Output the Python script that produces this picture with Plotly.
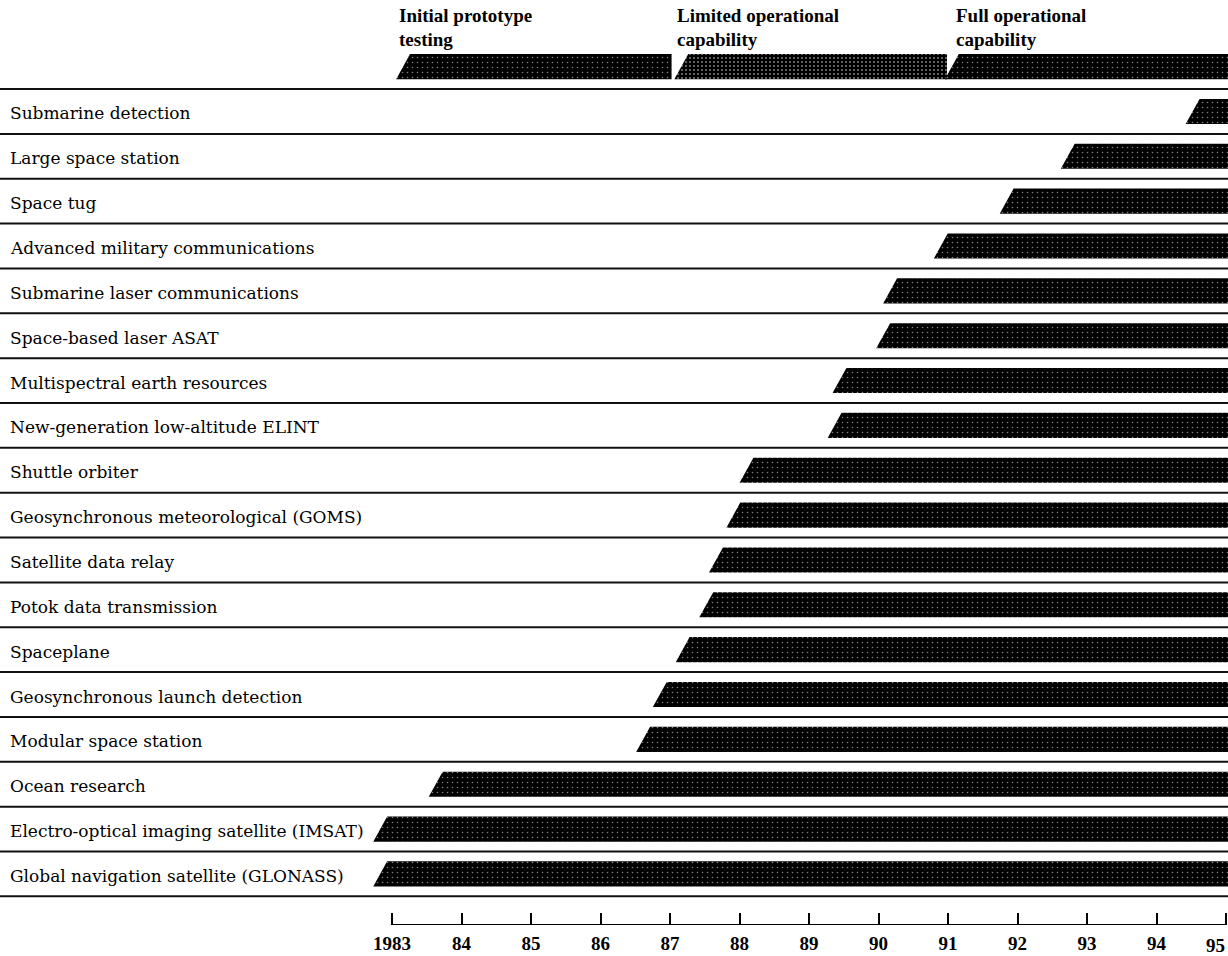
import plotly.graph_objects as go

# ---------------- data ----------------
programs = [
    "Submarine detection",
    "Large space station",
    "Space tug",
    "Advanced military communications",
    "Submarine laser communications",
    "Space-based laser ASAT",
    "Multispectral earth resources",
    "New-generation low-altitude ELINT",
    "Shuttle orbiter",
    "Geosynchronous meteorological (GOMS)",
    "Satellite data relay",
    "Potok data transmission",
    "Spaceplane",
    "Geosynchronous launch detection",
    "Modular space station",
    "Ocean research",
    "Electro-optical imaging satellite (IMSAT)",
    "Global navigation satellite (GLONASS)",
]
start_years = [1994.54, 1992.74, 1991.86, 1990.91, 1990.18, 1990.08, 1989.45, 1989.38,
               1988.11, 1987.92, 1987.67, 1987.53, 1987.19, 1986.86, 1986.62, 1983.63,
               1982.83, 1982.83]
end_year = 1995.05

phase_line1 = ["Initial prototype", "Limited operational", "Full operational"]
phase_line2 = ["testing", "capability", "capability"]
phase_starts = [1983.16, 1987.17, 1991.07]
phase_ends = [1987.03, 1991.00, 1995.05]

tick_years = list(range(1983, 1996))
tick_labels = ["1983", "84", "85", "86", "87", "88", "89", "90", "91", "92", "93", "94", "95"]

# ---------------- styling ----------------
W, H = 1228, 956
X_RANGE = [1977.35, 1995.05]
Y_RANGE = [19.83, -1.485]
HALF = 0.28
SLANT = 0.1
SERIF = "DejaVu Serif"
BOLD_SERIF = "Liberation Serif"
PX_PER_YEAR = 69.5
AXIS_X0 = 392  # pixel position of the first year tick
AXIS_PAD = 0.02

fig = go.Figure()


def bar(start, end, row, dense=False):
    xs = [start - SLANT, end, end, start + SLANT, start - SLANT]
    ys = [row + HALF, row + HALF, row - HALF, row - HALF, row + HALF]
    fig.add_trace(go.Scatter(
        x=xs, y=ys, mode="lines", fill="toself",
        line=dict(width=0, color="black"),
        fillcolor="black",
        fillpattern=dict(shape=".", bgcolor="#000000", fgcolor="#ffffff",
                         size=5 if not dense else 4,
                         solidity=0.08 if not dense else 0.2),
        hoverinfo="skip", showlegend=False,
    ))


# header phases
for i, (s, e) in enumerate(zip(phase_starts, phase_ends)):
    bar(s, e, 0, dense=(i == 1))

# programme bars
for i, s in enumerate(start_years):
    bar(s, end_year, i + 1)

# separator lines
shapes = []
for r in range(len(programs) + 1):
    shapes.append(dict(type="line", xref="paper", x0=0, x1=1, yref="y",
                       y0=r + 0.5, y1=r + 0.5, line=dict(color="#111", width=2)))

annotations = []
for i, name in enumerate(programs):
    annotations.append(dict(text=name, xref="paper", x=8 / W, yref="y", y=i + 1,
                            xanchor="left", yanchor="middle", yshift=-2, showarrow=False,
                            font=dict(family=SERIF, size=17, color="black")))

for i, (s, l1, l2) in enumerate(zip(phase_starts, phase_line1, phase_line2)):
    xs = -6 if i < 2 else 2
    annotations.append(dict(text="<b>%s</b>" % l1, xref="x", x=s, xshift=xs, yref="paper",
                            y=1 - 15 / H, xanchor="left", yanchor="middle", showarrow=False,
                            font=dict(family=BOLD_SERIF, size=19, color="black")))
    annotations.append(dict(text="<b>%s</b>" % l2, xref="x", x=s, xshift=xs, yref="paper",
                            y=1 - 39 / H, xanchor="left", yanchor="middle", showarrow=False,
                            font=dict(family=BOLD_SERIF, size=19, color="black")))

# the last year label sits against the right edge: drawn as right-aligned text
annotations.append(dict(text=tick_labels[-1], xref="x2", x=tick_years[-1], xshift=1,
                        yref="paper", y=1 - 945 / H, xanchor="right", yanchor="middle",
                        showarrow=False,
                        font=dict(family=BOLD_SERIF, size=19, color="black", weight="bold")))

# invisible trace so the time axis subplot is drawn
fig.add_trace(go.Scatter(x=[tick_years[0], tick_years[-1]], y=[0, 0], xaxis="x2", yaxis="y2",
                         mode="markers", marker=dict(opacity=0), hoverinfo="skip",
                         showlegend=False))

n_years = tick_years[-1] - tick_years[0]
ax_left = AXIS_X0 - AXIS_PAD * PX_PER_YEAR
ax_right = AXIS_X0 + (n_years + AXIS_PAD) * PX_PER_YEAR

fig.update_layout(
    width=W, height=H,
    margin=dict(l=0, r=0, t=0, b=0, pad=0, autoexpand=False),
    paper_bgcolor="white", plot_bgcolor="white",
    xaxis=dict(range=X_RANGE, visible=False, domain=[0, 1], automargin=False),
    yaxis=dict(range=Y_RANGE, visible=False, domain=[0, 1], automargin=False),
    xaxis2=dict(domain=[ax_left / W, min(ax_right / W, 1.0)],
                range=[tick_years[0] - AXIS_PAD, tick_years[-1] + AXIS_PAD], anchor="y2",
                showline=False,
                ticks="inside", ticklen=12, tickwidth=2, tickcolor="black",
                tickvals=tick_years, ticktext=tick_labels[:-1] + [""],
                tickfont=dict(family=BOLD_SERIF, size=19, color="black", weight="bold"),
                showgrid=False, zeroline=False, ticklabelstandoff=5, automargin=False),
    yaxis2=dict(domain=[31 / H, 40 / H], anchor="x2", visible=False, range=[0, 1],
                automargin=False),
    shapes=shapes + [dict(type="line", xref="x2", x0=tick_years[0], x1=tick_years[-1],
                          yref="y2", y0=0, y1=0, line=dict(color="black", width=2))],
    annotations=annotations,
    showlegend=False,
)

fig.write_html("out.html", config={"displayModeBar": False},
               post_script="document.body.style.margin='0';document.body.style.overflow='hidden';")
